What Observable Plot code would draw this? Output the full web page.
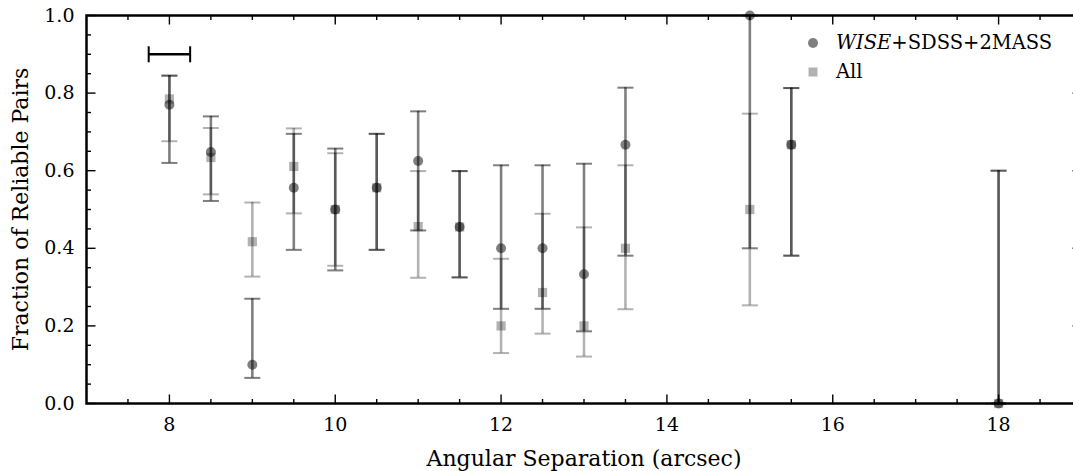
<!DOCTYPE html>
<html>
<head>
<meta charset="utf-8">
<script src="https://cdn.jsdelivr.net/npm/d3@7"></script>
<script src="https://cdn.jsdelivr.net/npm/@observablehq/plot@0.6"></script>
<style>
  html, body { margin: 0; padding: 0; background: #fff; overflow: hidden; }
  #wrap { position: relative; width: 1073px; height: 471px; overflow: hidden; font-family: "DejaVu Serif", serif; }
  #legend { position: absolute; left: 803px; top: 28px; font-size: 19.5px; color: #000; line-height: 29px; }
  #legend .row { display: flex; align-items: center; white-space: nowrap; }
  #legend svg { margin-right: 13px; }
</style>
</head>
<body>
<div id="wrap">
  <div id="chart"></div>
  <div id="legend">
    <div class="row"><svg width="20" height="20"><circle cx="10" cy="10" r="5" fill="#000" fill-opacity="0.5"></circle></svg><span><i>WISE</i>+SDSS+2MASS</span></div>
    <div class="row"><svg width="20" height="20"><rect x="5.5" y="5.5" width="9" height="9" fill="#000" fill-opacity="0.3"></rect></svg><span>All</span></div>
  </div>
</div>
<script>
// ---- data ----
const separation = [8, 8.5, 9, 9.5, 10, 10.5, 11, 11.5, 12, 12.5, 13, 13.5, 15, 15.5, 18];
const wiseFrac = [0.77, 0.648, 0.10, 0.556, 0.50, 0.556, 0.625, 0.455, 0.40, 0.40, 0.333, 0.667, 1.0, 0.667, 0.0];
const wiseLow  = [0.62, 0.522, 0.066, 0.396, 0.343, 0.396, 0.446, 0.325, 0.244, 0.244, 0.186, 0.381, 0.40, 0.381, 0.0];
const wiseHigh = [0.845, 0.74, 0.27, 0.695, 0.657, 0.695, 0.753, 0.599, 0.614, 0.614, 0.618, 0.814, 1.0, 0.813, 0.60];
const allFrac  = [0.785, 0.634, 0.417, 0.611, 0.50, 0.556, 0.456, 0.455, 0.20, 0.286, 0.20, 0.40, 0.50, 0.667, 0.0];
const allLow   = [0.676, 0.539, 0.327, 0.49, 0.355, 0.396, 0.324, 0.325, 0.13, 0.18, 0.121, 0.243, 0.253, 0.381, 0.0];
const allHigh  = [0.845, 0.71, 0.518, 0.709, 0.645, 0.695, 0.599, 0.599, 0.373, 0.489, 0.454, 0.614, 0.747, 0.813, 0.60];
// bin-width indicator
const binCenter = [8];
const binHalfWidth = [0.25];
const binLevel = [0.9];
// ticks
const xMajorTicks = [8, 10, 12, 14, 16, 18];
const xMinorTicks = [7.5, 8.5, 9, 9.5, 10.5, 11, 11.5, 12.5, 13, 13.5, 14.5, 15, 15.5, 16.5, 17, 17.5, 18.5];
const yMajorTicks = [0, 0.2, 0.4, 0.6, 0.8, 1.0];
const yMinorTicks = [0.05, 0.1, 0.15, 0.25, 0.3, 0.35, 0.45, 0.5, 0.55, 0.65, 0.7, 0.75, 0.85, 0.9, 0.95];
const xLabel = "Angular Separation (arcsec)";
const yLabel = "Fraction of Reliable Pairs";

const wise = separation.map((x, i) => ({x, y: wiseFrac[i], lo: wiseLow[i], hi: wiseHigh[i]}));
const all = separation.map((x, i) => ({x, y: allFrac[i], lo: allLow[i], hi: allHigh[i]}));
const bins = binCenter.map((x, i) => ({x, h: binHalfWidth[i], y: binLevel[i]}));

// custom line symbols (length = r)
const L = s => Math.sqrt(s / Math.PI);
const hCap = {draw(c, s) { const l = L(s); c.moveTo(-l, 0); c.lineTo(l, 0); }};
const vCap = {draw(c, s) { const l = L(s); c.moveTo(0, -l); c.lineTo(0, l); }};
const tickUp = {draw(c, s) { c.moveTo(0, 0); c.lineTo(0, -L(s)); }};
const tickDown = {draw(c, s) { c.moveTo(0, 0); c.lineTo(0, L(s)); }};
const tickRightward = {draw(c, s) { c.moveTo(0, 0); c.lineTo(L(s), 0); }};
const tickLeftward = {draw(c, s) { c.moveTo(0, 0); c.lineTo(-L(s), 0); }};

const font = "DejaVu Serif";
const tickMarks = (vals, r) => [
  Plot.dot(vals, {x: d => d, frameAnchor: "bottom", symbol: tickUp, r, stroke: "black", fill: "none", strokeWidth: 1.4}),
  Plot.dot(vals, {x: d => d, frameAnchor: "top", symbol: tickDown, r, stroke: "black", fill: "none", strokeWidth: 1.4})
];
const yTickMarks = (vals, r) => [
  Plot.dot(vals, {y: d => d, frameAnchor: "left", symbol: tickRightward, r, stroke: "black", fill: "none", strokeWidth: 1.4}),
  Plot.dot(vals, {y: d => d, frameAnchor: "right", symbol: tickLeftward, r, stroke: "black", fill: "none", strokeWidth: 1.4})
];

function errorbars(data, op) {
  return [
    Plot.ruleX(data, {x: "x", y1: "lo", y2: "hi", stroke: "black", strokeOpacity: op, strokeWidth: 2.6}),
    Plot.dot(data, {x: "x", y: "lo", symbol: hCap, r: 8, stroke: "black", strokeOpacity: op, fill: "none", strokeWidth: 2}),
    Plot.dot(data, {x: "x", y: "hi", symbol: hCap, r: 8, stroke: "black", strokeOpacity: op, fill: "none", strokeWidth: 2})
  ];
}

const chart = Plot.plot({
  width: 1073,
  height: 471,
  marginLeft: 86,
  marginTop: 15,
  marginBottom: 68,
  marginRight: -8,
  style: {fontFamily: font, background: "white"},
  x: {domain: [7, 19], axis: null},
  y: {domain: [0, 1], axis: null},
  marks: [
    ...errorbars(all, 0.3),
    Plot.dot(all, {x: "x", y: "y", symbol: "square", r: 5.2, fill: "black", fillOpacity: 0.3, stroke: "none"}),
    ...errorbars(wise, 0.5),
    Plot.dot(wise, {x: "x", y: "y", r: 5, fill: "black", fillOpacity: 0.5, stroke: "none"}),
    // bin width indicator
    Plot.ruleY(bins, {y: "y", x1: d => d.x - d.h, x2: d => d.x + d.h, stroke: "black", strokeWidth: 2.4}),
    Plot.dot(bins, {x: d => d.x - d.h, y: "y", symbol: vCap, r: 8, stroke: "black", fill: "none", strokeWidth: 2}),
    Plot.dot(bins, {x: d => d.x + d.h, y: "y", symbol: vCap, r: 8, stroke: "black", fill: "none", strokeWidth: 2}),
    // ticks
    ...tickMarks(xMajorTicks, 9),
    ...tickMarks(xMinorTicks, 4.5),
    ...yTickMarks(yMajorTicks, 9),
    ...yTickMarks(yMinorTicks, 4.5),
    Plot.frame({stroke: "black", strokeWidth: 2.5}),
    // tick labels
    Plot.text(xMajorTicks, {x: d => d, frameAnchor: "bottom", dy: 21, text: d => String(d), fontSize: 19, fill: "black", lineAnchor: "middle", textAnchor: "middle"}),
    Plot.text(yMajorTicks, {y: d => d, frameAnchor: "left", dx: -12, textAnchor: "end", text: d => d.toFixed(1), fontSize: 19, fill: "black", lineAnchor: "middle"}),
    // axis labels
    Plot.text([xLabel], {frameAnchor: "bottom", dy: 55, text: d => d, fontSize: 22, fill: "black", lineAnchor: "middle", textAnchor: "middle"}),
    Plot.text([yLabel], {frameAnchor: "left", dx: -66, rotate: -90, text: d => d, fontSize: 22, fill: "black", lineAnchor: "middle", textAnchor: "middle"})
  ]
});
document.getElementById("chart").appendChild(chart);
</script>
</body>
</html>
